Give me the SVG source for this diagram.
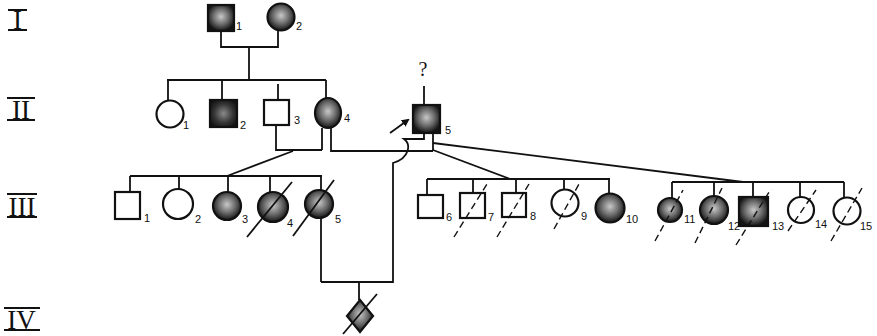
<svg xmlns="http://www.w3.org/2000/svg" width="877" height="336" viewBox="0 0 877 336">
<style>
.sym{stroke:#111;stroke-width:2.2;fill:#fff}
.aff{stroke:#111;stroke-width:2.2;fill:url(#speck)}
.dark{stroke:#111;stroke-width:2.2;fill:url(#speckD)}
.ln{stroke:#111;stroke-width:1.8;fill:none}
.sl{stroke:#111;stroke-width:1.4;fill:none;stroke-dasharray:7 4}
.lbl{font-family:"Liberation Sans",Arial,sans-serif;font-size:11px;fill:#111}
.gen{font-family:"Liberation Serif","Times New Roman",serif;font-size:27px;fill:#111}
.bar{stroke:#111;stroke-width:2}
</style>
<defs>
<radialGradient id="speck" cx="50%" cy="45%" r="55%">
<stop offset="0%" stop-color="#c8c8c8"/>
<stop offset="55%" stop-color="#6a6a6a"/>
<stop offset="100%" stop-color="#141414"/>
</radialGradient>
<radialGradient id="speckD" cx="50%" cy="50%" r="60%">
<stop offset="0%" stop-color="#8a8a8a"/>
<stop offset="60%" stop-color="#333"/>
<stop offset="100%" stop-color="#111"/>
</radialGradient>
<marker id="arr" markerWidth="8" markerHeight="8" refX="6" refY="4" orient="auto" markerUnits="userSpaceOnUse">
<path d="M0,0 L8,4 L0,8 Z" fill="#111"/>
</marker>
</defs>
<rect width="877" height="336" fill="#fff"/>

<g id="generations">
<g id="gen-I"><text class="gen" x="17.5" y="29" text-anchor="middle">I</text><line class="bar" x1="8" y1="10" x2="27" y2="10"/><line class="bar" x1="8" y1="30" x2="27" y2="30"/></g>
<g id="gen-II"><text class="gen" x="21" y="119" text-anchor="middle">II</text><line class="bar" x1="7" y1="98" x2="35" y2="98"/><line class="bar" x1="7" y1="120" x2="35" y2="120"/></g>
<g id="gen-III"><text class="gen" x="22" y="216" text-anchor="middle">III</text><line class="bar" x1="7" y1="194" x2="37" y2="194"/><line class="bar" x1="7" y1="217" x2="37" y2="217"/></g>
<g id="gen-IV"><text class="gen" x="21.5" y="329" text-anchor="middle">IV</text><line class="bar" x1="4" y1="308" x2="40" y2="308"/><line class="bar" x1="4" y1="330" x2="40" y2="330"/></g>
</g>

<g id="connectors">
<path class="ln" d="M221,31 V47 H278 V31"/>
<path class="ln" d="M249,47 V80"/>
<path class="ln" d="M167,80 H326"/>
<path class="ln" d="M168,80 V100 M222,80 V100 M278,84 V100 M326,80 V98"/>
<path class="ln" d="M424,86 V105"/>
<path class="ln" d="M276,125 V150 H322 M322,128 V150"/>
<path class="ln" d="M331,128 V151 H433"/>
<path class="ln" d="M424,133 V139 H404 C411,144 410,158 393,163 V282 H321 M321,218 V282 M359,282 V300"/>
<path class="ln" d="M433,133 V151"/>
<path class="ln" d="M433,143 L743,182"/>
<path class="ln" d="M433,150 L510,179"/>
<path class="ln" d="M293,151 L227,176"/>
<path class="ln" d="M130,176 H322"/>
<path class="ln" d="M130,176 V192 M179,176 V189 M228,176 V192 M270,176 V193 M321,176 V190"/>
<path class="ln" d="M427,179 H610"/>
<path class="ln" d="M427,179 V195 M473,179 V193 M516,179 V193 M564,179 V190 M609,179 V194"/>
<path class="ln" d="M672,182 H844"/>
<path class="ln" d="M672,182 V198 M714,182 V196 M753,182 V197 M800,182 V197 M844,182 V198"/>
<line class="ln" x1="390" y1="133" x2="408" y2="120" marker-end="url(#arr)"/>
</g>

<g id="I-1"><rect class="aff" x="208" y="5" width="26" height="26"/><text class="lbl" x="236" y="30">1</text></g>
<g id="I-2"><circle class="aff" cx="281" cy="17" r="13.5"/><text class="lbl" x="296" y="30">2</text></g>

<g id="II-1"><circle class="sym" cx="170" cy="114" r="13.5"/><text class="lbl" x="183" y="129">1</text></g>
<g id="II-2"><rect class="dark" x="210" y="100" width="27" height="27"/><text class="lbl" x="240" y="129">2</text></g>
<g id="II-3"><rect class="sym" x="264" y="100" width="25" height="25"/><text class="lbl" x="294" y="124">3</text></g>
<g id="II-4"><ellipse class="aff" cx="328" cy="113" rx="13" ry="15"/><text class="lbl" x="344" y="122">4</text></g>
<g id="II-5"><text class="gen" x="423" y="76" text-anchor="middle" style="font-size:20px">?</text><rect class="aff" x="413" y="105" width="27" height="28"/><text class="lbl" x="445" y="134">5</text></g>

<g id="III-1"><rect class="sym" x="115" y="192" width="25" height="27"/><text class="lbl" x="144" y="222">1</text></g>
<g id="III-2"><circle class="sym" cx="178" cy="204" r="15"/><text class="lbl" x="195" y="223">2</text></g>
<g id="III-3"><circle class="aff" cx="227" cy="206" r="14"/><text class="lbl" x="242" y="223">3</text></g>
<g id="III-4"><circle class="aff" cx="273" cy="207" r="15"/><line class="ln" x1="247" y1="237" x2="292" y2="182"/><text class="lbl" x="287" y="227">4</text></g>
<g id="III-5"><circle class="aff" cx="319" cy="204" r="14"/><line class="ln" x1="293" y1="236" x2="334" y2="180"/><text class="lbl" x="335" y="223">5</text></g>
<g id="III-6"><rect class="sym" x="418" y="195" width="25" height="23"/><text class="lbl" x="446" y="221">6</text></g>
<g id="III-7"><rect class="sym" x="460" y="193" width="25" height="25"/><line class="sl" x1="454" y1="237" x2="487" y2="184"/><text class="lbl" x="488" y="221">7</text></g>
<g id="III-8"><rect class="sym" x="502" y="193" width="24" height="24"/><line class="sl" x1="497" y1="237" x2="529" y2="184"/><text class="lbl" x="530" y="220">8</text></g>
<g id="III-9"><circle class="sym" cx="565" cy="203" r="13.5"/><line class="sl" x1="554" y1="229" x2="579" y2="184"/><text class="lbl" x="581" y="220">9</text></g>
<g id="III-10"><circle class="aff" cx="610" cy="208" r="14.5"/><text class="lbl" x="626" y="223">10</text></g>
<g id="III-11"><circle class="aff" cx="670" cy="210" r="12"/><line class="sl" x1="655" y1="241" x2="683" y2="190"/><text class="lbl" x="684" y="223">11</text></g>
<g id="III-12"><circle class="aff" cx="714" cy="210" r="14"/><line class="sl" x1="695" y1="243" x2="722" y2="188"/><text class="lbl" x="728" y="230">12</text></g>
<g id="III-13"><rect class="aff" x="739" y="197" width="29" height="29"/><line class="sl" x1="736" y1="245" x2="771" y2="189"/><text class="lbl" x="772" y="230">13</text></g>
<g id="III-14"><circle class="sym" cx="801" cy="210" r="13"/><line class="sl" x1="788" y1="231" x2="816" y2="190"/><text class="lbl" x="815" y="228">14</text></g>
<g id="III-15"><circle class="sym" cx="847" cy="211" r="13.5"/><line class="sl" x1="831" y1="241" x2="862" y2="188"/><text class="lbl" x="860" y="230">15</text></g>

<g id="IV-1"><path class="aff" d="M360,300 L373,316 L360,332 L347,316 Z"/><line class="ln" x1="343" y1="334" x2="377" y2="294"/></g>
</svg>
